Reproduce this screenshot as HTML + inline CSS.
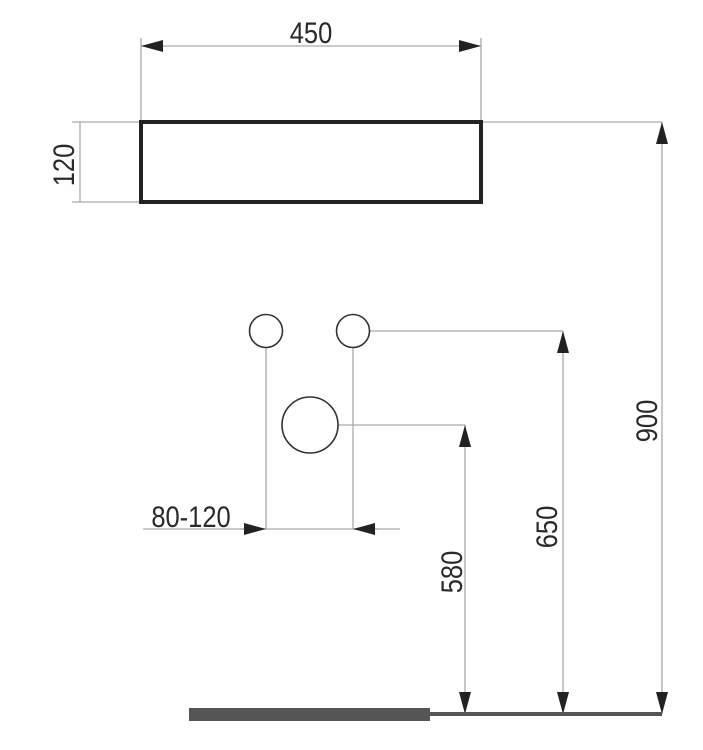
<!DOCTYPE html>
<html><head><style>
html,body{margin:0;padding:0;background:#fff;}
svg{display:block;}
text{font-family:"Liberation Sans",sans-serif;font-size:30px;fill:#2a2a2a;}
</style></head><body>
<svg width="703" height="750" viewBox="0 0 703 750" xmlns="http://www.w3.org/2000/svg">
<defs>
<marker id="a" viewBox="0 0 22 12" refX="22" refY="6" markerWidth="22" markerHeight="12" markerUnits="userSpaceOnUse" orient="auto">
<path d="M0,0 L22,6 L0,12 Z" fill="#222"/></marker>
</defs>
<g stroke="#aaa" stroke-width="1.3" fill="none">
<!-- 450 -->
<line x1="141" y1="38" x2="141" y2="122"/>
<line x1="481" y1="38" x2="481" y2="122"/>
<line x1="170" y1="46" x2="141" y2="46" marker-end="url(#a)"/>
<line x1="450" y1="46" x2="481" y2="46" marker-end="url(#a)"/>
<line x1="170" y1="46" x2="450" y2="46"/>
<!-- 120 -->
<line x1="72" y1="122" x2="141" y2="122"/>
<line x1="72" y1="202" x2="141" y2="202"/>
<line x1="80" y1="122" x2="80" y2="202"/>
<!-- 900 -->
<line x1="482" y1="122" x2="662" y2="122"/>
<line x1="662" y1="160" x2="662" y2="122" marker-end="url(#a)"/>
<line x1="662" y1="160" x2="662" y2="680"/>
<line x1="662" y1="680" x2="662" y2="714" marker-end="url(#a)"/>
<!-- 650 -->
<line x1="370" y1="331" x2="563" y2="331"/>
<line x1="563" y1="360" x2="563" y2="331" marker-end="url(#a)"/>
<line x1="563" y1="360" x2="563" y2="680"/>
<line x1="563" y1="680" x2="563" y2="714" marker-end="url(#a)"/>
<!-- 580 -->
<line x1="338" y1="425" x2="465" y2="425"/>
<line x1="465" y1="450" x2="465" y2="425" marker-end="url(#a)"/>
<line x1="465" y1="450" x2="465" y2="680"/>
<line x1="465" y1="680" x2="465" y2="714" marker-end="url(#a)"/>
<!-- 80-120 -->
<line x1="266" y1="348" x2="266" y2="529"/>
<line x1="353" y1="348" x2="353" y2="529"/>
<line x1="143" y1="529" x2="400" y2="529"/>
<line x1="240" y1="529" x2="266" y2="529" marker-end="url(#a)"/>
<line x1="378" y1="529" x2="353" y2="529" marker-end="url(#a)"/>
</g>
<rect x="141" y="122" width="340" height="80" fill="none" stroke="#222" stroke-width="4"/>
<g fill="none" stroke="#333" stroke-width="1.6">
<circle cx="266" cy="331" r="16.5"/>
<circle cx="353" cy="331" r="16.5"/>
<circle cx="310" cy="425" r="28"/>
</g>
<rect x="189" y="708" width="241" height="13" fill="#555"/>
<rect x="430" y="712" width="232" height="4" fill="#555"/>
<text x="0" y="0" text-anchor="middle" transform="translate(311,43) scale(0.85,1)">450</text>
<text x="0" y="0" text-anchor="middle" transform="translate(74,165) rotate(-90) scale(0.85,1)">120</text>
<text x="0" y="0" text-anchor="middle" transform="translate(657,421) rotate(-90) scale(0.85,1)">900</text>
<text x="0" y="0" text-anchor="middle" transform="translate(557,527) rotate(-90) scale(0.85,1)">650</text>
<text x="0" y="0" text-anchor="middle" transform="translate(462,572) rotate(-90) scale(0.85,1)">580</text>
<text x="0" y="0" text-anchor="middle" transform="translate(191,527) scale(0.85,1)">80-120</text>
</svg>
</body></html>
